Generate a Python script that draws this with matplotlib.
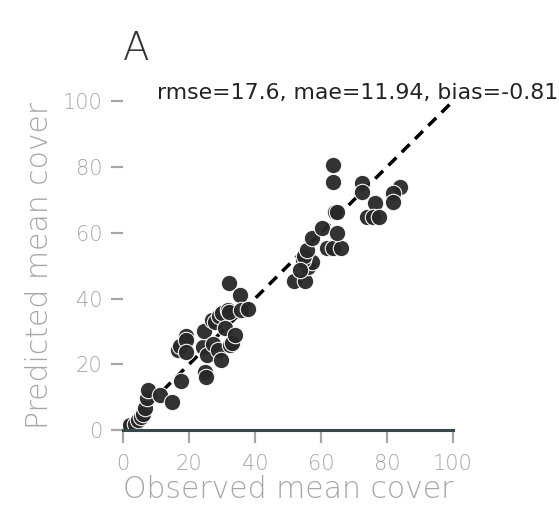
#scatter of observed vs predicted mean cover with 1:1 line
import numpy as np
import matplotlib
matplotlib.use("Agg")
import matplotlib.pyplot as plt

#=====================Data===============
observed = [1, 2, 3.5, 4.5, 5.5, 6, 6.7, 7.3, 7.6, 11.2, 14.8, 17.6, 16.7, 17.3, 19.1, 19.1, 19,
            24.2, 24.5, 25.5, 24.8, 25.2, 27, 28, 29, 30, 27.3, 28.8, 29.7, 31, 31.8, 32.4, 33,
            32, 32.1, 34, 35.5, 35.8, 37.9,
            51.8, 55.2, 56, 57.3, 54.5, 54.8, 55.8, 57.3, 60.3, 61.8, 63.6, 66, 64.8, 64.2, 65,
            63.6, 63.6, 72.4, 72.4, 76.4, 73.9, 75.8, 77.6, 83.9, 81.8, 81.8, 53.6]
predicted = [1, 1.5, 2, 3, 4, 5, 6.7, 9.7, 12.2, 10.6, 8.5, 14.9, 24.3, 25.5, 28.6, 27.4, 23.7,
             25.2, 30.3, 22.8, 17.6, 16.1, 33.4, 33, 34.7, 35.6, 26.1, 24.3, 21.3, 31, 36.5, 25.8, 26.4,
             35.9, 44.7, 28.9, 41, 36.5, 37,
             45.3, 45.3, 49.5, 51, 51.7, 52.9, 54.7, 58.4, 61.4, 55.3, 55.3, 55.3, 59.9, 66.3, 66.3,
             80.5, 75.4, 75.1, 72.3, 69, 64.7, 64.7, 64.7, 73.9, 72, 69.3, 48.6]
ticks = [0, 20, 40, 60, 80, 100]
stats_text = "rmse=17.6, mae=11.94, bias=-0.81"

#=====================Plot===============
plt.rcParams['font.family'] = ['DejaVu Sans']
grey = '#a6a6a6'

fig = plt.figure(figsize=(5.59, 5.14), dpi=100)
ax = fig.add_axes([0.22, 0.163, 0.59, 0.64])

ax.plot([0, 100], [0, 100], color='black', linestyle=(0, (3.2, 2.2)), linewidth=2.5, zorder=1)
ax.scatter(observed, predicted, s=140, color='#282828', edgecolor='white', linewidth=0.8,
           alpha=0.95, zorder=2)

ax.set_xlim(0, 100)
ax.set_ylim(0, 100)
ax.set_xticks(ticks)
ax.set_yticks(ticks)

for side in ['top', 'right', 'left']:
    ax.spines[side].set_visible(False)
ax.spines['bottom'].set_color('#37474c')
ax.spines['bottom'].set_linewidth(2.2)

ax.tick_params(axis='both', colors=grey, labelcolor=grey, labelsize=15,
               length=9, width=1.6, pad=6)
ax.tick_params(axis='x', pad=8)
for lab in ax.get_xticklabels() + ax.get_yticklabels():
    lab.set_fontweight(200)

ax.set_xlabel('Observed mean cover', fontsize=21.5, color=grey, fontweight=200, labelpad=1)
ax.set_ylabel('Predicted mean cover', fontsize=21.5, color=grey, fontweight=200, labelpad=6)
ax.set_title('A', loc='left', fontsize=28, color='#333333', fontweight=200, pad=30)

ax.text(10.3, 100.6, stats_text, fontsize=15.8, color='#222222', ha='left', va='baseline')

plt.savefig('out.png', dpi=100)
